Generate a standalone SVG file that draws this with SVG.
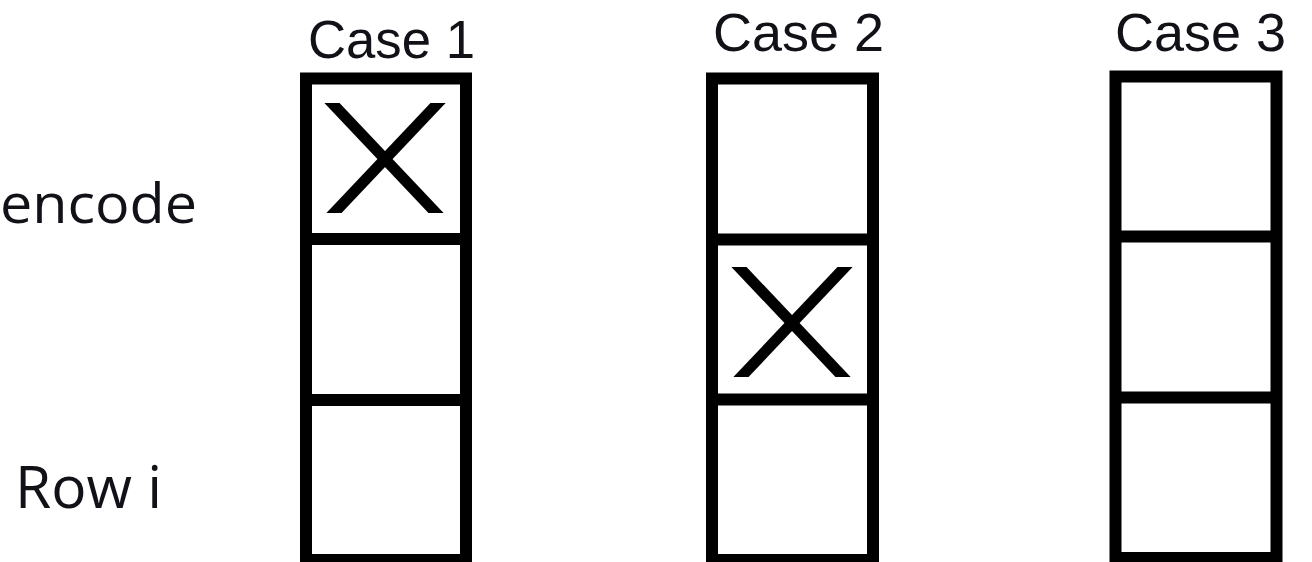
<svg xmlns="http://www.w3.org/2000/svg" xmlns:xlink="http://www.w3.org/1999/xlink" width="1312" height="562" viewBox="0 0 1312 562">
  <style>
    .lbl { font-family: "Open Sans", "Noto Sans", "Liberation Sans", sans-serif; fill: #111118; }
    .cap { font-family: "Liberation Sans", Arial, sans-serif; fill: #111118; }
    .frame { fill: none; stroke: #000; stroke-width: 12; }
    .div { stroke: #000; stroke-width: 12; }
    .xm { stroke: #000; stroke-width: 11; }
  </style>
  <defs>
    <clipPath id="xclip" clipPathUnits="userSpaceOnUse">
      <rect x="315" y="103" width="140" height="110"/>
    </clipPath>
    <g id="xmark" clip-path="url(#xclip)">
      <line class="xm" x1="322.5" y1="93" x2="445.5" y2="223"/>
      <line class="xm" x1="447.5" y1="93" x2="324.5" y2="223"/>
    </g>
  </defs>
  <rect width="1312" height="562" fill="#fff"/>

  <g id="labels">
    <text class="lbl" x="0" y="223" font-size="55" textLength="197" lengthAdjust="spacingAndGlyphs">encode</text>
    <text class="lbl" x="15" y="508" font-size="59" textLength="147" lengthAdjust="spacingAndGlyphs">Row i</text>
  </g>

  <g id="case1">
    <text class="cap" x="308" y="58" font-size="53" textLength="167" lengthAdjust="spacingAndGlyphs">Case 1</text>
    <rect class="frame" x="306" y="78.5" width="160" height="481.5"/>
    <line class="div" x1="306" y1="239" x2="466" y2="239"/>
    <line class="div" x1="306" y1="400" x2="466" y2="400"/>
    <use xlink:href="#xmark" href="#xmark"/>
  </g>

  <g id="case2">
    <text class="cap" x="713" y="51" font-size="53" textLength="171" lengthAdjust="spacingAndGlyphs">Case 2</text>
    <rect class="frame" x="712" y="78.5" width="161" height="481.5"/>
    <line class="div" x1="712" y1="239.5" x2="873" y2="239.5"/>
    <line class="div" x1="712" y1="399.5" x2="873" y2="399.5"/>
    <use xlink:href="#xmark" href="#xmark" transform="translate(407,164)"/>
  </g>

  <g id="case3">
    <text class="cap" x="1115" y="51" font-size="53" textLength="171" lengthAdjust="spacingAndGlyphs">Case 3</text>
    <rect class="frame" x="1115.5" y="76.5" width="161" height="481.5"/>
    <line class="div" x1="1115.5" y1="236.5" x2="1276.5" y2="236.5"/>
    <line class="div" x1="1115.5" y1="397.5" x2="1276.5" y2="397.5"/>
  </g>

  <g id="connectors"></g>
</svg>
